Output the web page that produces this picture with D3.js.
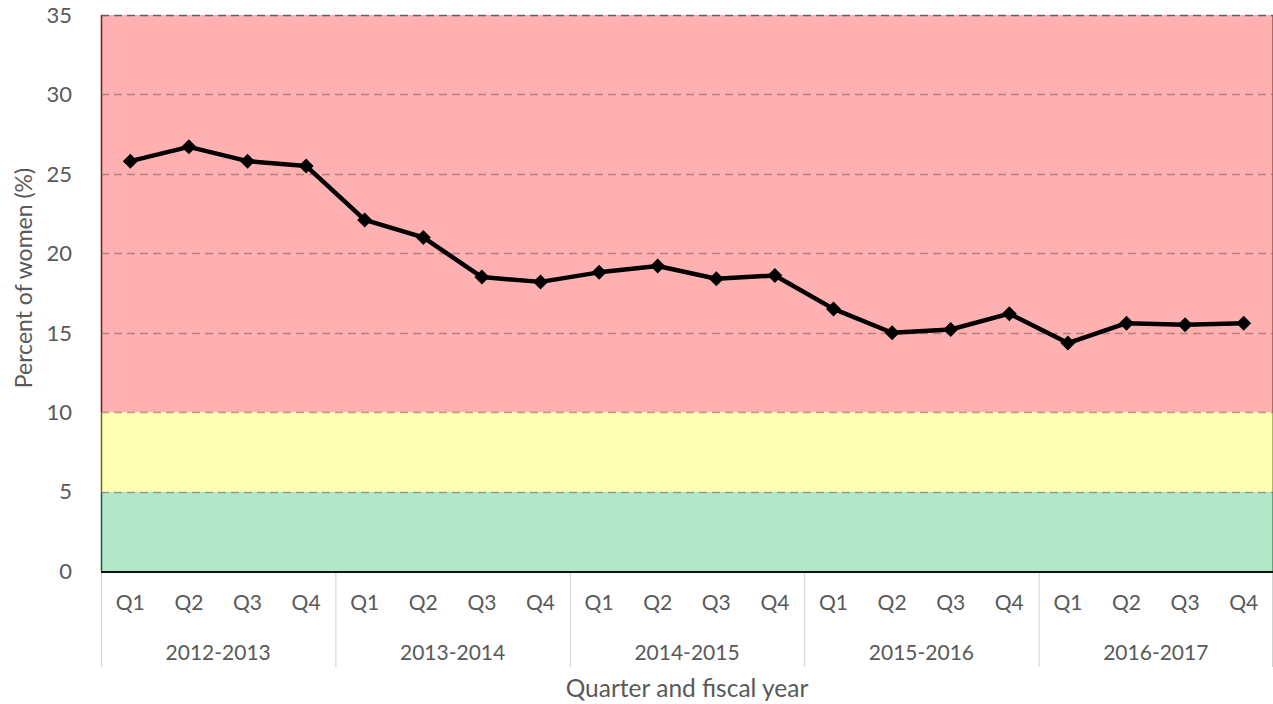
<!DOCTYPE html>
<html lang="en">
<head>
    <meta charset="UTF-8">
    <title>Percent of women by quarter</title>
    <script src="https://cdnjs.cloudflare.com/ajax/libs/d3/7.8.5/d3.min.js"></script>
    <style>
        body { margin: 0; background: #fff; font-family: Lato, "Open Sans", sans-serif; }
        .tick-label { fill: #595959; font-size: 22px; }
        .cat-label { fill: #595959; font-size: 21px; }
        .axis-title { fill: #595959; font-size: 23px; }
    </style>
</head>
<body>
    <div id="chart"></div>
    <script>
        // Data
        const years = ["2012-2013", "2013-2014", "2014-2015", "2015-2016", "2016-2017"];
        const quarters = ["Q1", "Q2", "Q3", "Q4"];
        const values = [25.8, 26.7, 25.8, 25.5,
                        22.1, 21.0, 18.5, 18.2,
                        18.8, 19.2, 18.4, 18.6,
                        16.5, 15.0, 15.2, 16.2,
                        14.35, 15.6, 15.5, 15.6];
        const yTicks = [0, 5, 10, 15, 20, 25, 30, 35];
        // background threshold bands: [from, to, fill, edge]
        const bands = [
            [0, 5, "#b3e7c9", "#1f5a34"],
            [5, 10, "#ffffb3", "#6b6b1f"],
            [10, 35, "#ffb0b1", "#6b1f1f"]
        ];

        const W = 1273, H = 704;
        const margin = {top: 15, right: 0, bottom: 133, left: 101};
        const width = W - margin.left - margin.right;
        const height = H - margin.top - margin.bottom;

        const svg = d3.select("#chart").append("svg")
            .attr("width", W).attr("height", H);
        const g = svg.append("g")
            .attr("transform", `translate(${margin.left},${margin.top})`);

        const points = [];
        years.forEach((yr, i) => quarters.forEach((q, j) => {
            points.push({key: yr + " " + q, year: yr, q: q, v: values[i * 4 + j]});
        }));

        const x = d3.scaleBand().domain(points.map(d => d.key)).range([0, width]).padding(0);
        const y = d3.scaleLinear().domain([0, 35]).range([height, 0]);

        // bands
        g.selectAll("rect.band").data(bands).join("rect")
            .attr("class", "band")
            .attr("x", 0)
            .attr("y", d => y(d[1]))
            .attr("width", width)
            .attr("height", d => y(d[0]) - y(d[1]))
            .attr("fill", d => d[2]);
        g.selectAll("line.band-edge").data(bands).join("line")
            .attr("class", "band-edge")
            .attr("x1", 0.5).attr("x2", 0.5)
            .attr("y1", d => y(d[1])).attr("y2", d => y(d[0]))
            .attr("stroke", d => d[3]).attr("stroke-width", 1.5);
        g.selectAll("line.band-edge-r").data(bands).join("line")
            .attr("class", "band-edge-r")
            .attr("x1", width - 0.5).attr("x2", width - 0.5)
            .attr("y1", d => y(d[1])).attr("y2", d => y(d[0]))
            .attr("stroke", d => d[3]).attr("stroke-opacity", 0.5).attr("stroke-width", 1);

        // dashed gridlines
        g.selectAll("line.grid").data(yTicks.filter(t => t > 0)).join("line")
            .attr("class", "grid")
            .attr("x1", 0).attr("x2", width)
            .attr("y1", d => Math.round(y(d)) + 0.5).attr("y2", d => Math.round(y(d)) + 0.5)
            .attr("stroke", d => d === 35 ? "#555" : "#7a5a5a")
            .attr("stroke-opacity", d => d === 35 ? 0.9 : 0.55)
            .attr("stroke-width", d => d === 35 ? 1.5 : 1.3)
            .attr("stroke-dasharray", "8,5");

        // y tick labels
        g.selectAll("text.tick-label").data(yTicks).join("text")
            .attr("class", "tick-label")
            .attr("x", -29)
            .attr("y", d => y(d))
            .attr("dy", "0.36em")
            .attr("text-anchor", "end")
            .text(d => d);

        // x axis baseline
        g.append("line")
            .attr("x1", 0).attr("x2", width)
            .attr("y1", height + 1).attr("y2", height + 1)
            .attr("stroke", "#111").attr("stroke-width", 2);

        // group separators
        const sepX = years.map((yr, i) => i * 4 * x.bandwidth()).concat([width]);
        g.selectAll("line.sep").data(sepX).join("line")
            .attr("class", "sep")
            .attr("x1", d => Math.min(d + 0.5, width - 0.5)).attr("x2", d => Math.min(d + 0.5, width - 0.5))
            .attr("y1", height + 2).attr("y2", height + 96)
            .attr("stroke", "#d0d0d0").attr("stroke-width", 1);

        // quarter labels
        g.selectAll("text.q").data(points).join("text")
            .attr("class", "cat-label q")
            .attr("x", d => x(d.key) + x.bandwidth() / 2)
            .attr("y", height + 39)
            .attr("text-anchor", "middle")
            .text(d => d.q);

        // year labels
        g.selectAll("text.yr").data(years).join("text")
            .attr("class", "cat-label yr")
            .attr("x", (d, i) => x(points[i * 4].key) + 2 * x.bandwidth())
            .attr("y", height + 89)
            .attr("text-anchor", "middle")
            .text(d => d);

        // axis titles
        g.append("text")
            .attr("class", "axis-title")
            .style("font-size", "24.5px")
            .attr("x", width / 2)
            .attr("y", height + 126)
            .attr("text-anchor", "middle")
            .text("Quarter and fiscal year");
        g.append("text")
            .attr("class", "axis-title")
            .attr("transform", "rotate(-90)")
            .attr("x", -(278 - margin.top))
            .attr("y", -69)
            .attr("text-anchor", "middle")
            .text("Percent of women (%)");

        // line
        const line = d3.line()
            .x(d => x(d.key) + x.bandwidth() / 2)
            .y(d => y(d.v));
        g.append("path")
            .datum(points)
            .attr("fill", "none")
            .attr("stroke", "#000")
            .attr("stroke-width", 4.5)
            .attr("stroke-linejoin", "round")
            .attr("d", line);

        // diamond markers
        g.selectAll("path.marker").data(points).join("path")
            .attr("class", "marker")
            .attr("transform", d => `translate(${x(d.key) + x.bandwidth() / 2},${y(d.v)})`)
            .attr("d", "M0,-7.5L7.5,0L0,7.5L-7.5,0Z")
            .attr("fill", "#000");
    </script>
</body>
</html>
